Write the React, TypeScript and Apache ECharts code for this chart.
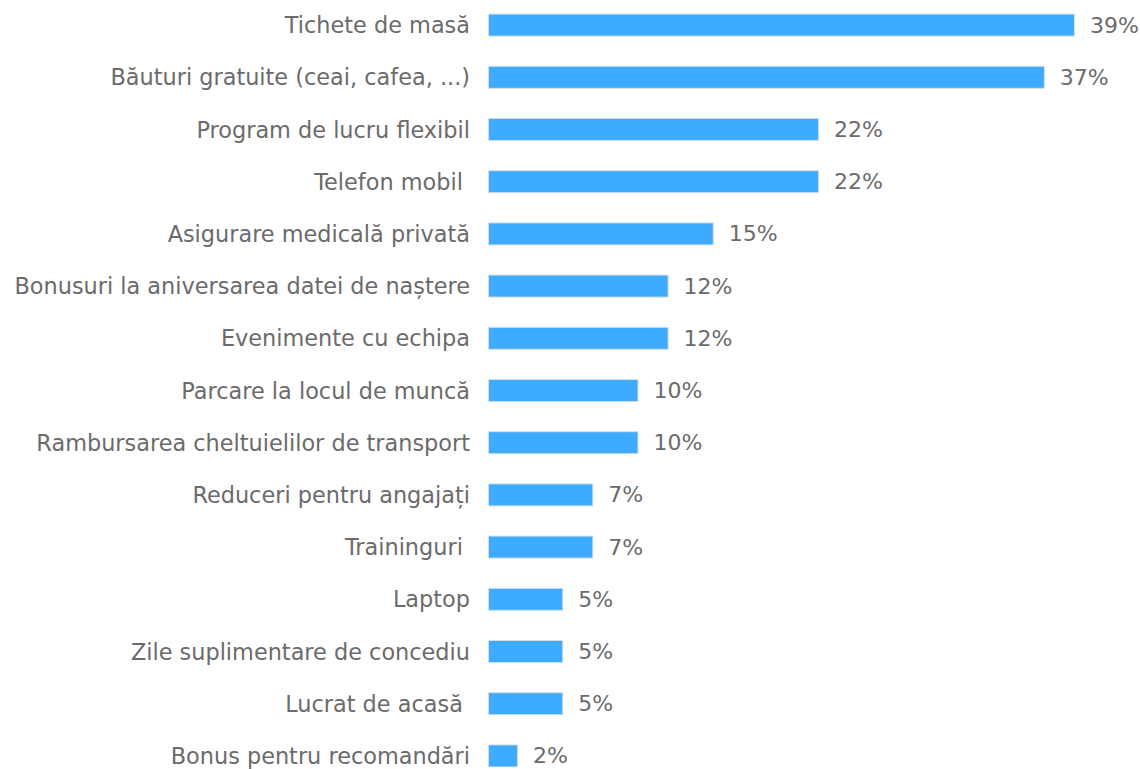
import React, { useEffect, useRef } from "react";
import * as echarts from "echarts";

const categories = [
  "Tichete de masă",
  "Băuturi gratuite (ceai, cafea, ...)",
  "Program de lucru flexibil",
  "Telefon mobil ",
  "Asigurare medicală privată",
  "Bonusuri la aniversarea datei de naștere",
  "Evenimente cu echipa",
  "Parcare la locul de muncă",
  "Rambursarea cheltuielilor de transport",
  "Reduceri pentru angajați",
  "Traininguri ",
  "Laptop",
  "Zile suplimentare de concediu",
  "Lucrat de acasă ",
  "Bonus pentru recomandări",
];
const values = [39, 37, 22, 22, 15, 12, 12, 10, 10, 7, 7, 5, 5, 5, 2];

export default function App() {
  const ref = useRef<HTMLDivElement>(null);
  useEffect(() => {
    const chart = echarts.init(ref.current!, null, { renderer: "svg" });
    chart.setOption({
      animation: false,
      grid: { left: 488, width: 602, top: 0, height: 783, containLabel: false },
      xAxis: {
        type: "value",
        min: 0,
        max: 40,
        show: false,
      },
      yAxis: {
        type: "category",
        data: categories,
        inverse: true,
        axisLine: { show: false },
        axisTick: { show: false },
        splitLine: { show: false },
        axisLabel: {
          color: "#6b6b6b",
          fontSize: 22.4,
          fontFamily: "DejaVu Sans",
          margin: 18,
        },
      },
      series: [
        {
          type: "bar",
          data: values,
          barWidth: 23,
          itemStyle: { color: "#3dacff", borderColor: "#d8dde2", borderWidth: 1 },
          label: {
            show: true,
            position: "right",
            distance: 15,
            formatter: "{c}%",
            color: "#6b6b6b",
            fontSize: 22,
            fontFamily: "DejaVu Sans",
          },
        },
      ],
    });
    return () => chart.dispose();
  }, []);
  return (
    <div style={{ position: "fixed", left: 0, top: 0, width: 1140, height: 769, overflow: "hidden", background: "#fff" }}>
      <div
        ref={ref}
        style={{ position: "absolute", left: 0, top: -1, width: 1140, height: 800 }}
      />
    </div>
  );
}
